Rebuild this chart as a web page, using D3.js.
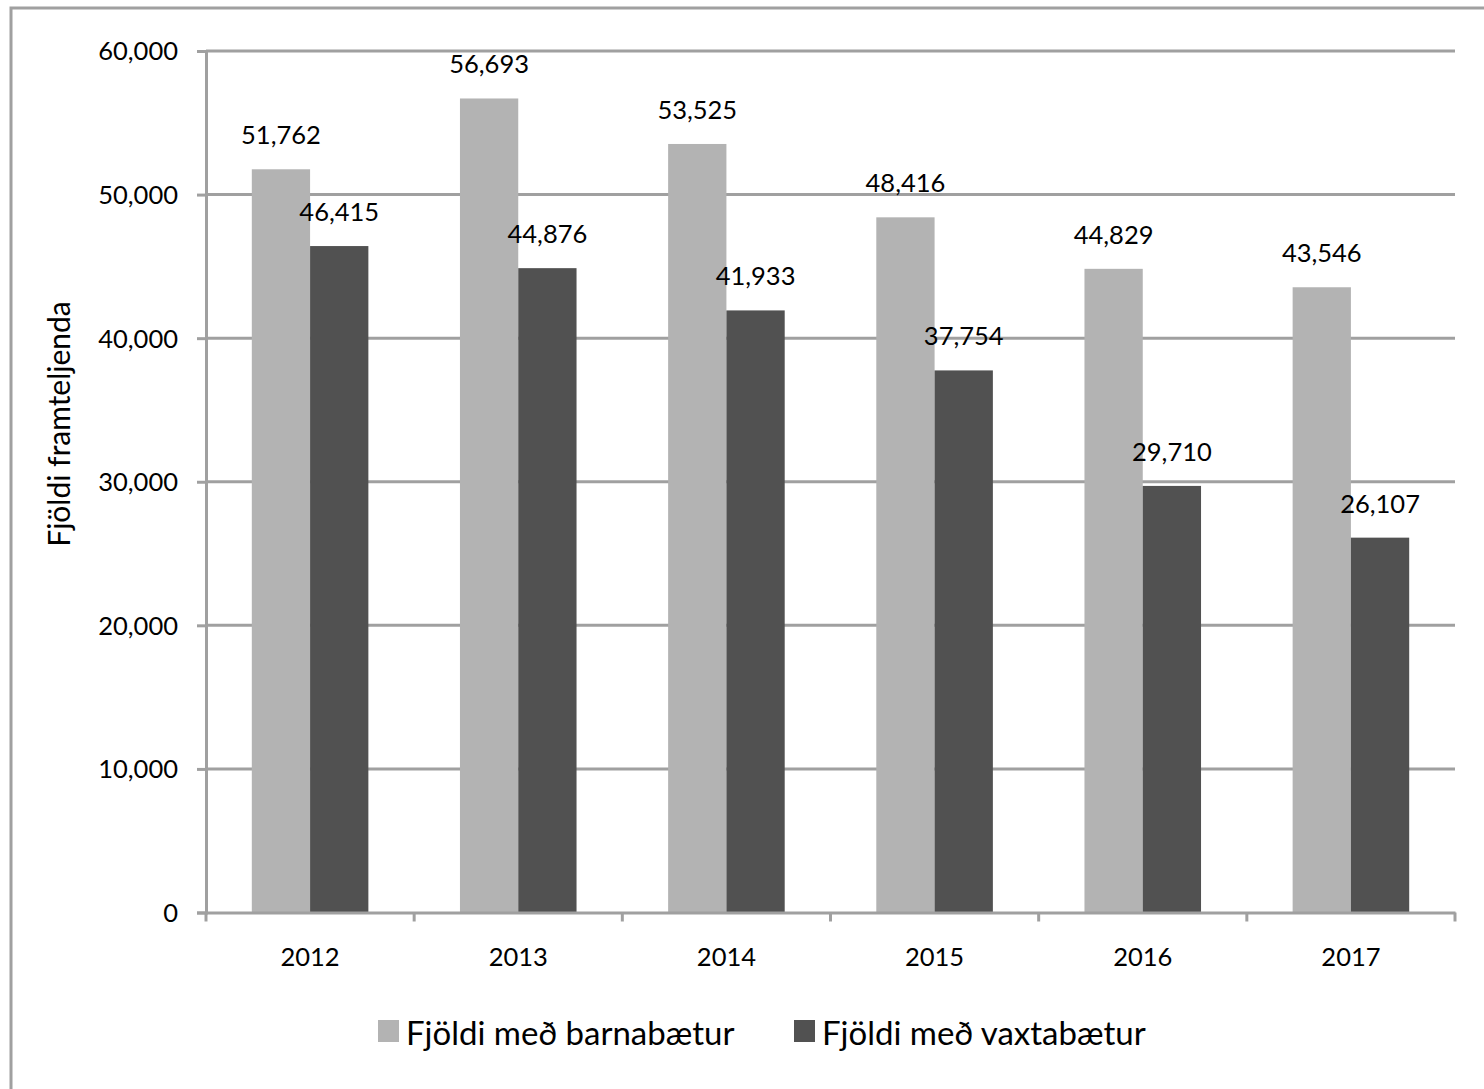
<!DOCTYPE html>
<html>
<head>
<meta charset="utf-8">
<script src="https://cdn.jsdelivr.net/npm/d3@7"></script>
<style>
  body { margin: 0; background: #fff; }
  svg text { font-family: Lato, "Open Sans", sans-serif; fill: #000; }
</style>
</head>
<body>
<div id="chart"></div>
<script>
var years = ["2012", "2013", "2014", "2015", "2016", "2017"];
var seriesNames = ["Fjöldi með barnabætur", "Fjöldi með vaxtabætur"];
var barnabaetur = [51762, 56693, 53525, 48416, 44829, 43546];
var vaxtabaetur = [46415, 44876, 41933, 37754, 29710, 26107];
var yTicks = [0, 10000, 20000, 30000, 40000, 50000, 60000];
var yTitle = "Fjöldi framteljenda";
var colors = ["#b3b3b3", "#515151"];

var width = 1484, height = 1089;
var margin = {top: 51, right: 29, bottom: 177, left: 206};

var svg = d3.select("#chart").append("svg")
    .attr("width", width)
    .attr("height", height);

// outer frame (right and bottom edges fall outside the picture)
svg.append("rect")
    .attr("x", 11).attr("y", 8)
    .attr("width", 1520).attr("height", 1120)
    .attr("fill", "none")
    .attr("stroke", "#a0a0a0")
    .attr("stroke-width", 3);

var x0 = d3.scaleBand()
    .domain(years)
    .range([margin.left, width - margin.right])
    .padding(0);

var bw = x0.bandwidth();
var x1 = d3.scaleBand()
    .domain(seriesNames)
    .range([bw * 0.22, bw * 0.78]);

var yScale = d3.scaleLinear()
    .domain([0, 60000])
    .range([height - margin.bottom + 0.5, margin.top]);

var fmt = d3.format(",");

// gridlines
svg.append("g")
    .selectAll("line")
    .data(yTicks.filter(d => d > 0))
    .enter().append("line")
    .attr("x1", margin.left)
    .attr("x2", width - margin.right)
    .attr("y1", d => yScale(d))
    .attr("y2", d => yScale(d))
    .attr("stroke", "#a0a0a0")
    .attr("stroke-width", 3);

var data = years.map((yr, i) => ({year: yr, values: [barnabaetur[i], vaxtabaetur[i]]}));

var groups = svg.selectAll(".grp")
    .data(data)
    .enter().append("g")
    .attr("class", "grp")
    .attr("transform", d => "translate(" + x0(d.year) + ",0)");

groups.selectAll("rect")
    .data(d => d.values.map((v, j) => ({name: seriesNames[j], value: v, j: j})))
    .enter().append("rect")
    .attr("x", d => x1(d.name))
    .attr("width", x1.bandwidth())
    .attr("y", d => yScale(d.value))
    .attr("height", d => yScale(0) - yScale(d.value))
    .attr("fill", d => colors[d.j]);

groups.selectAll(".lbl")
    .data(d => d.values.map((v, j) => ({name: seriesNames[j], value: v})))
    .enter().append("text")
    .attr("class", "lbl")
    .attr("x", d => x1(d.name) + x1.bandwidth() / 2)
    .attr("y", d => yScale(d.value) - 25)
    .attr("text-anchor", "middle")
    .style("font-size", "25.5px")
    .text(d => fmt(d.value));

// y axis
var yAxis = d3.axisLeft(yScale)
    .tickValues(yTicks)
    .tickFormat(fmt)
    .tickSize(9)
    .tickPadding(19);

var gy = svg.append("g")
    .attr("transform", "translate(" + margin.left + ",0)")
    .call(yAxis);
gy.select(".domain").attr("stroke", "#a0a0a0").attr("stroke-width", 3);
gy.selectAll(".tick line").attr("stroke", "#a0a0a0").attr("stroke-width", 3);
gy.selectAll("text").style("font-size", "25.5px").attr("dy", "0.35em");

// x axis with ticks at category boundaries
var xAxis = d3.axisBottom(x0).tickSize(0).tickPadding(35);
var gx = svg.append("g")
    .attr("transform", "translate(0," + yScale(0) + ")")
    .call(xAxis);
gx.select(".domain").attr("stroke", "#a0a0a0").attr("stroke-width", 3);
gx.selectAll("text").style("font-size", "25.5px");

var bounds = years.map(y => x0(y)).concat([x0(years[years.length - 1]) + bw]);
gx.selectAll(".bnd")
    .data(bounds)
    .enter().append("line")
    .attr("x1", d => d).attr("x2", d => d)
    .attr("y1", 0).attr("y2", 9)
    .attr("stroke", "#a0a0a0")
    .attr("stroke-width", 3);

// y title
svg.append("text")
    .attr("transform", "translate(70,424) rotate(-90)")
    .attr("text-anchor", "middle")
    .style("font-size", "30px")
    .text(yTitle);

// legend
var legendX = [378, 794];
var legend = svg.selectAll(".legend")
    .data(seriesNames)
    .enter().append("g")
    .attr("class", "legend")
    .attr("transform", (d, i) => "translate(" + legendX[i] + ",1020)");

legend.append("rect")
    .attr("width", 21)
    .attr("height", 22)
    .attr("fill", (d, i) => colors[i]);

legend.append("text")
    .attr("x", 28)
    .attr("y", 25)
    .style("font-size", "33px")
    .text(d => d);
</script>
</body>
</html>
